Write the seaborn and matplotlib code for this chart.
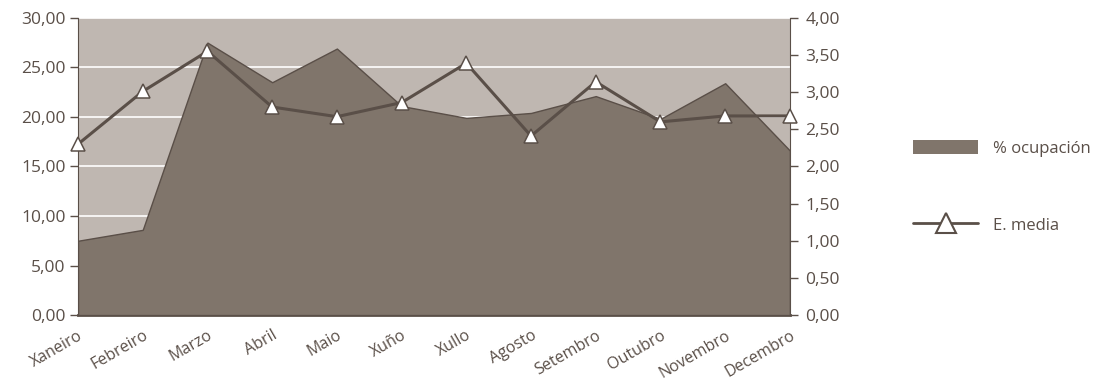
import matplotlib
matplotlib.use("Agg")
import matplotlib.pyplot as plt
import seaborn as sns
import numpy as np
from matplotlib.ticker import FuncFormatter, MultipleLocator
from matplotlib.patches import Patch
from matplotlib.lines import Line2D

months = ["Xaneiro", "Febreiro", "Marzo", "Abril", "Maio", "Xuño",
          "Xullo", "Agosto", "Setembro", "Outubro", "Novembro", "Decembro"]
ocupacion = [7.5, 8.6, 27.5, 23.5, 26.9, 21.1, 19.9, 20.4, 22.1, 19.8, 23.4, 16.6]
estancia_media = [2.30, 3.01, 3.55, 2.80, 2.67, 2.86, 3.39, 2.41, 3.14, 2.60, 2.68, 2.68]

area_col = "#80756b"
bg_col = "#bfb7b1"
line_col = "#5a4f48"
text_col = "#5a4f48"

sns.set_style("white")
plt.rcParams["font.family"] = ["Open Sans", "DejaVu Sans"]

fig = plt.figure(figsize=(11.02, 3.88), dpi=100)
ax = fig.add_axes([0.0708, 0.188, 0.646, 0.766])
ax.set_facecolor(bg_col)
x = np.arange(len(months))

ax.fill_between(x, 0, ocupacion, color=area_col, edgecolor=line_col, linewidth=1, zorder=3)
ax.set_ylim(0, 30)
ax.set_xlim(0, len(months) - 1)
ax.yaxis.set_major_locator(MultipleLocator(5))
ax.yaxis.grid(True, color="white", linewidth=1.2, zorder=1)
ax.set_axisbelow(True)

ax2 = ax.twinx()
sns.lineplot(x=x, y=estancia_media, ax=ax2, color=line_col, linewidth=2.2,
             marker="^", markersize=10, markerfacecolor="white",
             markeredgecolor=line_col, markeredgewidth=1.1, zorder=5, clip_on=False)
ax2.set_ylim(0, 4)
ax2.yaxis.set_major_locator(MultipleLocator(0.5))

fmt = FuncFormatter(lambda v, p: f"{v:.2f}".replace(".", ","))
ax.yaxis.set_major_formatter(fmt)
ax2.yaxis.set_major_formatter(fmt)

ax.set_xticks(x)
ax.set_xticklabels(months, rotation=30, ha="right", rotation_mode="anchor")

for a in (ax, ax2):
    for s in a.spines.values():
        s.set_visible(False)
    a.tick_params(colors=text_col, labelsize=12.5, length=6, width=1, direction="out")
ax.spines["left"].set_visible(True)
ax.spines["left"].set_color(line_col)
ax.spines["bottom"].set_visible(True)
ax.spines["bottom"].set_color(line_col)
ax.spines["bottom"].set_linewidth(2)
ax2.spines["right"].set_visible(True)
ax2.spines["right"].set_color(line_col)
ax.tick_params(axis="x", labelsize=11.5, pad=3)
ax.tick_params(axis="y", pad=3)
ax2.tick_params(axis="y", pad=5)
ax.set_xlabel("")
ax.set_ylabel("")
ax2.set_ylabel("")

handles = [Patch(facecolor=area_col, edgecolor="none"),
           Line2D([0], [0], color=line_col, linewidth=2, marker="^", markersize=14,
                  markerfacecolor="white", markeredgecolor=line_col, markeredgewidth=1.5)]
fig.legend(handles, ["% ocupación", "E. media"], loc="upper left",
           bbox_to_anchor=(0.8285, 0.64), frameon=False, fontsize=12,
           labelcolor=text_col, handlelength=3.9, handleheight=0.95,
           labelspacing=3.6, handletextpad=0.9, borderpad=0, borderaxespad=0)

fig.savefig("out.png", dpi=100)
